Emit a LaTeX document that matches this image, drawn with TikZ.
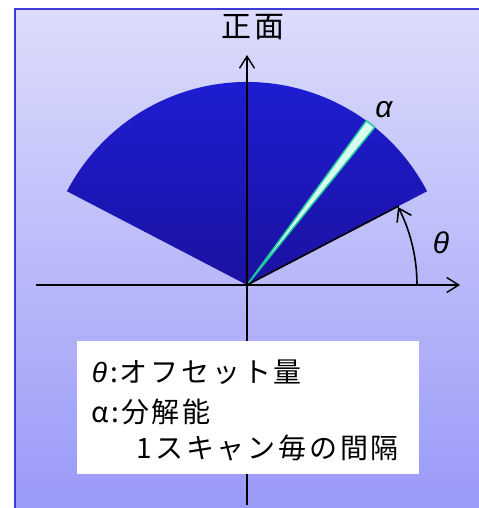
\documentclass[tikz,border=0pt]{standalone}
\usepackage{fontspec}
\newfontfamily\cjk{Noto Sans CJK JP}
\newfontfamily\cjkspaced[LetterSpace=10]{Noto Sans CJK JP}
\newfontfamily\greekit{Liberation Sans Italic}
\usetikzlibrary{arrows.meta}
\definecolor{bgtop}{HTML}{DCDCFC}
\definecolor{bgbot}{HTML}{9898F8}
\definecolor{bgborder}{HTML}{3C3CDC}
\definecolor{sectop}{HTML}{1E1ED8}
\definecolor{secbot}{HTML}{1A12A0}
\definecolor{slicefill}{HTML}{D8FFF0}
\definecolor{sliceline}{HTML}{20C8A0}
\tikzset{
  axis/.style={line width=1.4bp, -{Straight Barb[length=12bp,width=15bp,line width=1.4bp]}},
  lbl/.style={inner sep=0pt, font=\cjkspaced\fontsize{30bp}{32bp}\selectfont},
  legtext/.style={inner sep=0pt, anchor=west, font=\cjkspaced\fontsize{28bp}{30bp}\selectfont},
  greeklbl/.style={inner sep=0pt, font=\greekit\fontsize{30bp}{32bp}\selectfont}
}
\begin{document}
\begin{tikzpicture}[x=1bp,y=1bp]
\useasboundingbox (0,0) rectangle (479,508);
% background
\shade[top color=bgtop, bottom color=bgbot] (14.5,-10) rectangle (490,499);
\draw[bgborder, line width=2bp] (14.5,-10) -- (14.5,499) -- (490,499);
\coordinate (O) at (247,223);
% sector
\shade[top color=sectop, bottom color=secbot] (O) -- ++(27.5:203) arc[start angle=27.5, end angle=152.5, radius=203] -- cycle;
% slice
\draw[sliceline, fill=slicefill, line width=1.5bp, line join=round] (O) -- ++(51:203) arc[start angle=51, end angle=54, radius=203] -- cycle;
% axes
\coordinate (vb) at (247,3);
\coordinate (vt) at (247,453);
\coordinate (hl) at (36,223);
\coordinate (hr) at (460,223);
\draw[axis] (vb) -- (vt);
\draw[axis] (hl) -- (hr);
% angle
\coordinate (base) at (417,223);
\draw[line width=2.2bp] (O) -- (base);
\draw[line width=1.6bp] (O) -- ++(27.5:171);
\draw[line width=1.6bp, -{Straight Barb[length=12bp,width=16bp,line width=1.6bp]}] (base) arc[start angle=0, end angle=27.3, radius=170];
% labels
\node[lbl] (front) at (253,481) {正面};
\node[greeklbl] (alpha) at (384,398) {α};
\node[greeklbl] (theta) at (441,265) {θ};
% legend
\node[fill=white, minimum width=342bp, minimum height=133.3bp, inner sep=0pt] (legend) at (248.3,100.35) {};
\node[legtext] (l1) at (91.7,136) {{\greekit θ}\hspace{3bp}:\hspace{2bp}オフセット量};
\node[legtext] (l2) at (91.7,96.3) {α\hspace{2bp}:\hspace{2bp}分解能};
\node[legtext] (l3) at (136.7,60) {1スキャン毎の間隔};
\end{tikzpicture}
\end{document}
